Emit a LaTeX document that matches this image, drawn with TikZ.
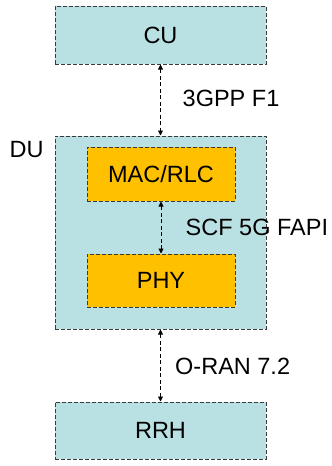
\documentclass[tikz,border=0pt]{standalone}
\usepackage{fontspec}
\setmainfont{Liberation Sans}
\usetikzlibrary{arrows.meta}
\definecolor{lblue}{HTML}{B9E0E2}
\definecolor{lorange}{HTML}{FFC000}
\definecolor{edge}{HTML}{3A3A3A}
\begin{document}
\begin{tikzpicture}[x=1pt,y=-1pt,
  box/.style={draw=edge,line width=1pt,dash pattern=on 4pt off 2pt,inner sep=0pt,font=\fontsize{23.5}{27}\selectfont},
  outerbox/.style={box,fill=lblue},
  innerbox/.style={box,fill=lorange},
  link/.style={draw=black,line width=0.9pt,dash pattern=on 4pt off 2.5pt,{Triangle[length=5pt,width=5pt]}-{Triangle[length=5pt,width=5pt]}},
  lbl/.style={font=\fontsize{23.5}{27}\selectfont,inner sep=0pt,anchor=west}]
\useasboundingbox (0,0) rectangle (332,466);
\node[outerbox,minimum width=211pt,minimum height=58pt] (cu) at (160.5,35) {CU};
\node[outerbox,minimum width=211pt,minimum height=193pt] (du) at (160.5,232.5) {};
\node[innerbox,minimum width=148pt,minimum height=54pt] (mac) at (161,174) {MAC/RLC};
\node[innerbox,minimum width=148pt,minimum height=53pt] (phy) at (161,280.5) {PHY};
\node[outerbox,minimum width=211pt,minimum height=57pt] (rrh) at (160.5,430.5) {RRH};
\node[lbl] (dul) at (9.5,150) {DU};
\draw[link] (cu.south) -- (du.north);
\draw[link] (mac.south) -- (phy.north);
\draw[link] (du.south) -- (rrh.north);
\node[lbl] (f1) at (182.5,98) {3GPP F1};
\node[lbl] (fapi) at (185.5,227) {SCF 5G FAPI};
\node[lbl] (oran) at (175,366) {O-RAN 7.2};
\end{tikzpicture}
\end{document}
